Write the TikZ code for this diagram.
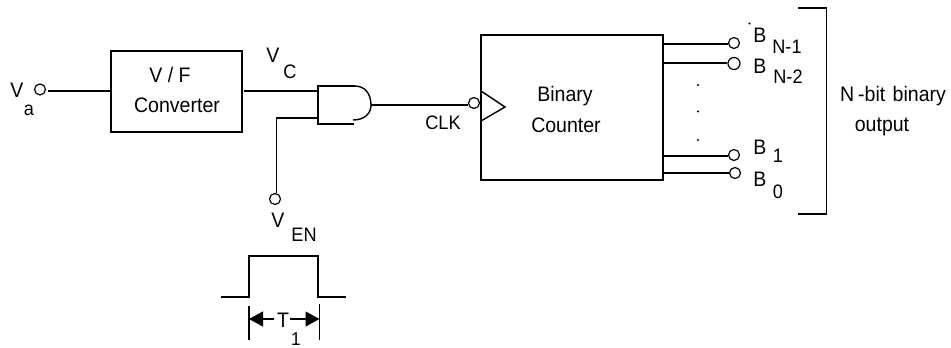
\documentclass[tikz,border=0pt]{standalone}
\usepackage{fontspec}
\setmainfont[FakeStretch=0.93]{Liberation Sans}
\usetikzlibrary{arrows.meta}
\tikzset{
  wire/.style={draw=black,line width=1.4pt},
  blockbox/.style={draw=black,line width=1.4pt,inner sep=0pt,minimum width=#1},
  pin/.style={circle,draw=black,line width=1.2pt,fill=white,inner sep=0pt,minimum size=11pt},
  lab/.style={anchor=base,inner sep=0pt,font=\fontsize{21}{24}\selectfont},
  sublab/.style={anchor=base,inner sep=0pt,font=\fontsize{19.5}{22}\selectfont},
  dotlab/.style={circle,fill=black,inner sep=0pt,minimum size=2.2pt},
  dim/.style={draw=black,line width=1.2pt,-{Triangle[length=14pt,width=15pt]}}
}
\begin{document}
\begin{tikzpicture}[x=1pt,y=-1pt]
\useasboundingbox (0,0) rectangle (951,348);
% blocks
\node[blockbox=131pt,minimum height=81pt] (vf) at (176.5,91.5) {};
\node[blockbox=182pt,minimum height=145pt] (cnt) at (572,107.5) {};
% pins
\node[pin] (va) at (40,89.5) {};
\node[pin] (ven) at (275,199) {};
\node[pin] (clk) at (474,103) {};
\node[pin] (bn1) at (734,43) {};
\node[pin,minimum height=9pt,minimum width=12pt] (bn2) at (734,63.5) {};
\node[pin] (b1) at (734,155) {};
\node[pin] (b0) at (735,173) {};
% AND gate
\coordinate (anda) at (318,91);
\coordinate (andb) at (318,118);
\coordinate (ando) at (371,105);
\draw[wire] (355,86) -- (318,86) -- (318,124) -- (354,124);
\draw[wire] (355,86) .. controls (365,86) and (371,94) .. (ando) .. controls (371,113) and (365,120) .. (353,120);
% wires
\draw[wire] (va.east |- vf.west) ++(2,-0.5) -- (111,91);
\draw[wire] (244,91) -- (anda);
\draw[wire] (ven.north) ++(1.5,0) -- (276.5,118) -- (andb);
\draw[wire] (ando) -- (clk.west |- ando);
\draw[wire] (481,91) -- (505,107) -- (481,121);
\draw[wire] (663,44) -- (bn1.west |- 0,44);
\draw[wire] (663,63) -- (bn2.west |- 0,63);
\draw[wire] (663,156) -- (b1.west |- 0,156);
\draw[wire] (663,173) -- (b0.west);
% bracket
\draw[wire] (798,8) -- (826.5,8) -- (826.5,214) -- (798,214);
% dots
\node[dotlab] (d0) at (749.5,23.5) {};
\node[dotlab] (d1) at (698,85) {};
\node[dotlab] (d2) at (698,111.5) {};
\node[dotlab] (d3) at (698,140) {};
% pulse
\draw[wire] (221,297) -- (249,297) -- (249,256) -- (318,256) -- (318,297) -- (346,297);
\draw[draw=black,line width=1.1pt] (249,306) -- (249,340);
\draw[draw=black,line width=1.1pt] (319.5,304) -- (319.5,340);
\coordinate (tl) at (274,319);
\coordinate (tr) at (290,319);
\draw[dim] (tl) -- (249,319);
\draw[dim] (tr) -- (319.5,319);
% labels
\node[lab] (l1) at (17,97) {V};
\node[sublab] (l2) at (29,115) {a};
\node[lab] (l3) at (170,82) {V / F};
\node[lab] (l4) at (177,112) {Converter};
\node[lab] (l5) at (273,62) {V};
\node[sublab] (l6) at (290,78) {C};
\node[sublab] (l7) at (443,129) {CLK};
\node[lab] (l8) at (565,101) {Binary};
\node[lab] (l9) at (566,132) {Counter};
\node[lab] (l10) at (278,227) {V};
\node[sublab] (l11) at (304,241) {EN};
\node[lab] (l12) at (283,327) {T};
\node[sublab,font=\fontsize{18.5}{20}\selectfont] (l13) at (296,345) {1};
\node[lab] (l14) at (760,42) {B};
\node[sublab] (l15) at (787,53) {N-1};
\node[lab] (l16) at (760,73) {B};
\node[sublab] (l17) at (788,83) {N-2};
\node[lab] (l18) at (760,154) {B};
\node[sublab] (l19) at (778,162) {1};
\node[lab] (l20) at (760,186) {B};
\node[sublab] (l21) at (778,198) {0};
\node[lab] (l22) at (893,101) {N\kern4pt-bit\kern2pt\ binary};
\node[lab] (l23) at (882,131) {output};
\end{tikzpicture}
\end{document}
